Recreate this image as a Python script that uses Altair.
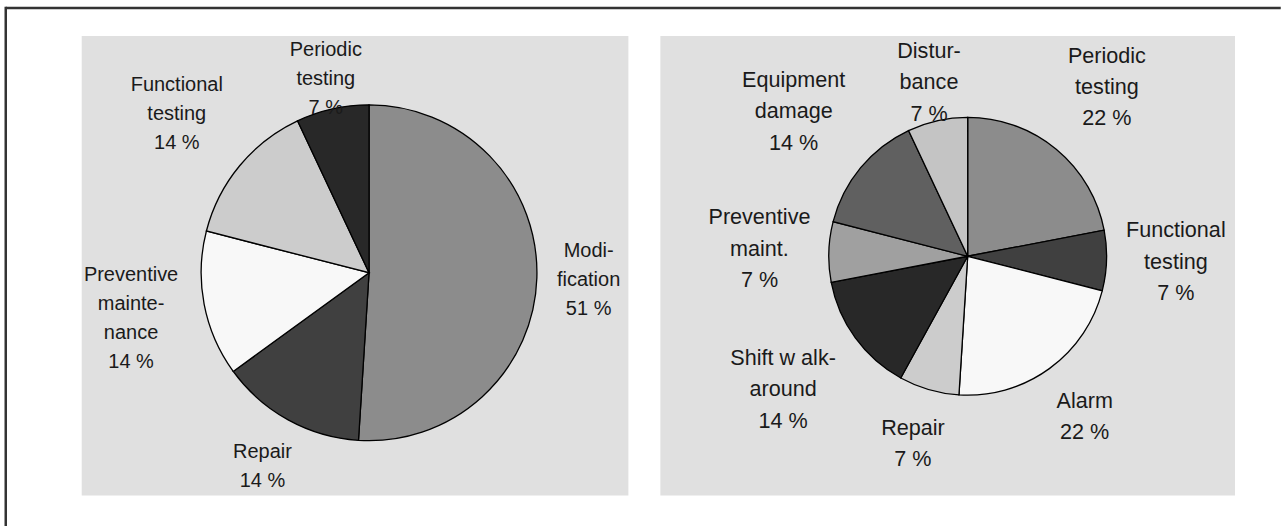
import altair as alt
import pandas as pd

# Share of events per activity type, two pie panels
left_names = ["Modi-\nfication", "Repair", "Preventive\nmainte-\nnance",
              "Functional\ntesting", "Periodic\ntesting"]
left_values = [51, 14, 14, 14, 7]
left_shades = ["#8c8c8c", "#404040", "#f8f8f8", "#cccccc", "#282828"]

right_names = ["Periodic\ntesting", "Functional\ntesting", "Alarm", "Repair",
               "Shift w alk-\naround", "Preventive\nmaint.", "Equipment\ndamage",
               "Distur-\nbance"]
right_values = [22, 7, 22, 7, 14, 7, 14, 7]
right_shades = ["#8c8c8c", "#404040", "#f8f8f8", "#cccccc", "#282828",
                "#a0a0a0", "#606060", "#c4c4c4"]

FONT = "Liberation Sans"
GAP = 19          # distance between pie edge and label box
PANEL_H = 460
PANEL_BG = "#e0e0e0"
INK = "#1a1a1a"


def text_em(line):
    """Rough advance width of a line, in em."""
    w = 0.0
    for ch in line:
        if ch in "ijlt.,-' rf":
            w += 0.29
        elif ch in "mwMW%":
            w += 0.86
        elif ch.isupper():
            w += 0.67
        else:
            w += 0.556
    return w


def pie_panel(names, values, shades, width, cx, cy, r, font_size, line_h):
    df = pd.DataFrame({
        "name": names,
        "value": values,
        "idx": list(range(len(names))),
        "label": [f"{n}\n{v} %" for n, v in zip(names, values)],
    })
    df["lines"] = df["label"].str.count("\n") + 1
    df["half_w"] = [max(text_em(s) for s in lab.split("\n")) * font_size * 0.93 / 2
                    for lab in df["label"]]

    base = alt.Chart(df).properties(width=width, height=PANEL_H)

    slices = base.mark_arc(radius=r, stroke="black", strokeWidth=1.3).encode(
        theta=alt.Theta("value:Q", stack=True),
        order=alt.Order("idx:Q"),
        color=alt.Color("name:N", scale=alt.Scale(domain=names, range=shades),
                        legend=None),
        x=alt.value(cx),
        y=alt.value(cy),
    )

    # labels sit outside the pie at the slice mid-angle, kept inside the panel;
    # the anchor is the first line, so the block is lifted by half its extra lines
    labels = (
        base.transform_window(cum="sum(value)", sort=[alt.SortField("idx")],
                              frame=[None, 0])
        .transform_joinaggregate(total="sum(value)")
        .transform_calculate(
            mid="2 * PI * (datum.cum - datum.value / 2) / datum.total",
            hh=f"datum.lines * {line_h / 2}",
        )
        .transform_calculate(
            r0=f"{r + GAP} + datum.half_w * abs(sin(datum.mid)) + datum.hh * abs(cos(datum.mid))",
            rlim=(f"abs(cos(datum.mid)) < 0.01 ? 1e9 : (cos(datum.mid) > 0 ? "
                  f"({cy} - datum.hh) / cos(datum.mid) : "
                  f"({PANEL_H - cy} - datum.hh) / (-cos(datum.mid)))"),
        )
        .transform_calculate(rad="min(datum.r0, datum.rlim)")
        .transform_calculate(
            lx=f"{cx} + datum.rad * sin(datum.mid)",
            ly=f"{cy} - datum.rad * cos(datum.mid) - (datum.lines - 1) * {line_h / 2}",
        )
        .mark_text(font=FONT, fontSize=font_size, lineHeight=line_h, lineBreak="\n",
                   align="center", baseline="middle", color=INK)
        .encode(
            x=alt.X("lx:Q", scale=None, axis=None),
            y=alt.Y("ly:Q", scale=None, axis=None),
            text="label:N",
        )
    )
    return slices, labels


left_slices, left_labels = pie_panel(left_names, left_values, left_shades,
                                     547, 287.5, 237, 168, 20, 29)
right_slices, right_labels = pie_panel(right_names, right_values, right_shades,
                                       575, 307.5, 220.5, 139, 21.6, 31.5)

# outer frame (top and left edges), drawn relative to the left panel
frame_src = alt.Data(values=[{"k": 0}])
frame_top = alt.Chart(frame_src).mark_rule(color="#333333", strokeWidth=2.5).encode(
    x=alt.value(-76), x2=alt.value(1199.75), y=alt.value(-28))
frame_left = alt.Chart(frame_src).mark_rule(color="#333333", strokeWidth=2.5,
                                            strokeCap="square").encode(
    x=alt.value(-76), y=alt.value(-28), y2=alt.value(489.75))

left = alt.layer(left_slices, left_labels, frame_top, frame_left)
right = alt.layer(right_slices, right_labels)

chart = (
    alt.hconcat(left, right, spacing=32, bounds="flush")
    .resolve_scale(color="independent")
    .properties(padding={"left": 3.75, "top": 5.75, "right": 0, "bottom": 0},
                background="white")
    .configure_view(fill=PANEL_BG, stroke=None)
)

chart.save("out.html", embed_options={"renderer": "svg", "actions": False})
